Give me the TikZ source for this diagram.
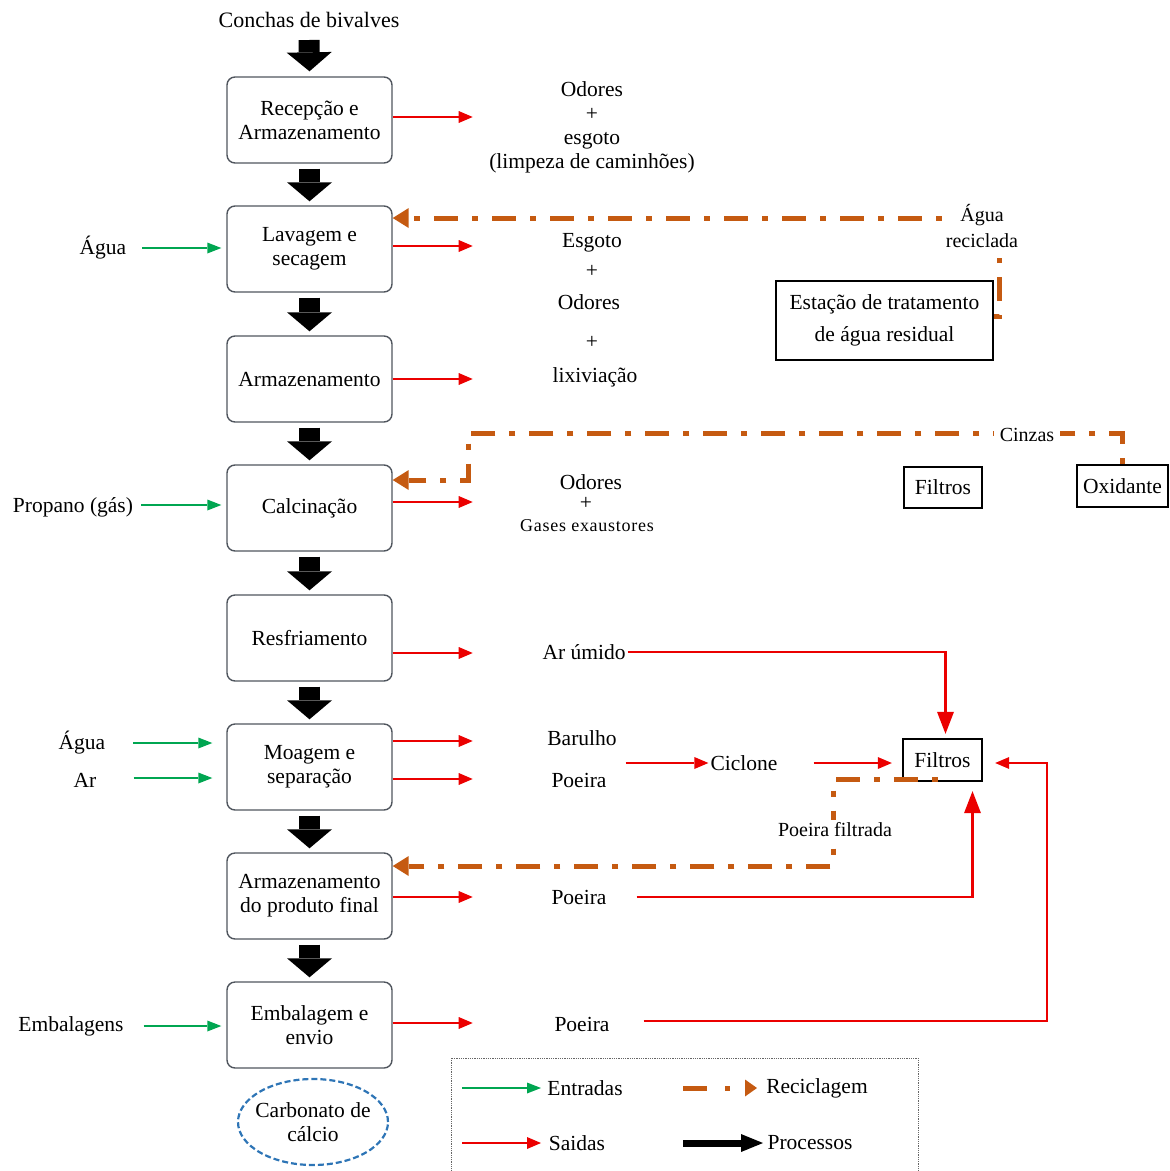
\documentclass[tikz,border=0pt]{standalone}
\usepackage{fontspec}
\setmainfont{Liberation Serif}
\usetikzlibrary{arrows.meta,shapes.geometric}
\definecolor{recol}{RGB}{197,90,17}
\definecolor{grn}{RGB}{0,166,81}
\definecolor{rd}{RGB}{235,0,0}
\definecolor{elb}{RGB}{46,117,182}
\definecolor{boxgray}{RGB}{80,86,94}
\begin{document}
\begin{tikzpicture}[x=1pt,y=-1pt,
  every node/.style={font=\fontsize{21.5}{24}\selectfont, inner sep=2pt},
  proc/.style={draw=boxgray, line width=1.4pt, rounded corners=8pt, minimum width=165pt, minimum height=86pt, align=center, inner sep=0pt},
  sqbox/.style={draw=black, line width=2.4pt, inner sep=0pt, align=center},
  procarrow/.style={line width=21pt, -{Triangle[length=19pt,width=45pt,line width=0pt]}},
  inarrow/.style={draw=grn, line width=1.2pt, -{Triangle[length=14pt,width=11pt,line width=0pt]}},
  outarrow/.style={draw=rd, line width=1.2pt, -{Triangle[length=14pt,width=12pt,line width=0pt]}},
  bigout/.style={draw=rd, line width=2.6pt, -{Triangle[length=22pt,width=17pt,line width=0pt]}},
  recyc/.style={draw=recol, line width=5pt, dash pattern=on 6pt off 14pt on 24pt off 14pt},
  recycarrow/.style={recyc, -{Triangle[length=16pt,width=20pt,line width=0pt]}},
  lbl/.style={fill=white, inner sep=6pt},
]
\useasboundingbox (0,0) rectangle (1170,1171);

% main process boxes
\node[font=\fontsize{22}{24}\selectfont] (src) at (309,20) {Conchas de bivalves};
\node[proc] (b1) at (309.5,120) {Recepção e\\Armazenamento};
\node[proc] (b2) at (309.5,249) {Lavagem e\\secagem};
\node[proc] (b3) at (309.5,379) {Armazenamento};
\node[proc] (b4) at (309.5,508) {Calcinação};
\node[proc] (b5) at (309.5,638) {Resfriamento};
\node[proc] (b6) at (309.5,767) {Moagem e\\separação};
\node[proc] (b7) at (309.5,896) {Armazenamento\\do produto final};
\node[proc] (b8) at (309.5,1025) {Embalagem e\\envio};
\node[align=center, inner sep=0pt] (cc) at (313,1122) {Carbonato de\\cálcio};
\draw[elb, line width=2.2pt, dash pattern=on 6pt off 3pt] (cc.center) ellipse [x radius=75pt, y radius=43pt];

% process arrows
\draw[procarrow] ([yshift=-20pt]src.center) -- ([yshift=5pt]b1.north);
\draw[procarrow] ([yshift=-5pt]b1.south) -- ([yshift=4pt]b2.north);
\draw[procarrow] ([yshift=-5pt]b2.south) -- ([yshift=4pt]b3.north);
\draw[procarrow] ([yshift=-5pt]b3.south) -- ([yshift=4pt]b4.north);
\draw[procarrow] ([yshift=-5pt]b4.south) -- ([yshift=4pt]b5.north);
\draw[procarrow] ([yshift=-5pt]b5.south) -- ([yshift=4pt]b6.north);
\draw[procarrow] ([yshift=-5pt]b6.south) -- ([yshift=4pt]b7.north);
\draw[procarrow] ([yshift=-5pt]b7.south) -- ([yshift=4pt]b8.north);

% inputs
\node (ag1) at (103,248) {Água};
\node (prop) at (73,507) {Propano (gás)};
\node (ag2) at (82,743) {Água};
\node (ar) at (85,780) {Ar};
\node (emb) at (71,1026) {Embalagens};
\draw[inarrow] ([xshift=14pt]ag1.east) -- ([xshift=-5pt]ag1.east -| b2.west);
\draw[inarrow] ([xshift=6pt,yshift=2pt]prop.east) -- ([xshift=-5pt,yshift=2pt]prop.east -| b4.west);
\draw[inarrow] ([xshift=26pt]ag2.east) -- ([xshift=-14pt]ag2.east -| b6.west);
\draw[inarrow] ([xshift=35pt,yshift=2pt]ar.east) -- ([xshift=-14pt,yshift=2pt]ar.east -| b6.west);
\draw[inarrow] ([xshift=18pt]emb.east) -- ([xshift=-5pt]emb.east -| b8.west);

% outputs
\draw[outarrow] ([yshift=3pt]b1.east) -- ++(80,0);
\draw[outarrow] ([yshift=3pt]b2.east) -- ++(80,0);
\draw[outarrow] (b3.east) -- ++(80,0);
\draw[outarrow] ([yshift=6pt]b4.east) -- ++(80,0);
\draw[outarrow] ([yshift=-15pt]b5.east) -- ++(80,0);
\draw[outarrow] ([yshift=26pt]b6.east) -- ++(80,0);
\draw[outarrow] ([yshift=-12pt]b6.east) -- ++(80,0);
\draw[outarrow] ([yshift=-1pt]b7.east) -- ++(80,0);
\draw[outarrow] ([yshift=2pt]b8.east) -- ++(80,0);

\node[align=center] (o1) at (592,127) {Odores\\+\\esgoto\\(limpeza de caminhões)};
\node (o2a) at (592,243) {Esgoto};
\node (o2b) at (592,271) {+};
\node (o2c) at (589,302) {Odores};
\node (o2d) at (592,342) {+};
\node (o2e) at (595,377) {lixiviação};
\node (o4a) at (591,482) {Odores};
\node (o4b) at (586,503) {+};
\node[font=\fontsize{18}{20}\selectfont\addfontfeatures{LetterSpace=4}] (o4c) at (587,526) {Gases exaustores};
\node (arum) at (584,652) {Ar úmido};
\node (bar) at (582,738) {Barulho};
\node (p6) at (579,780) {Poeira};
\node (cic) at (744,763) {Ciclone};
\node (p7) at (579,897) {Poeira};
\node (p8) at (582,1024) {Poeira};

% side boxes
\node[sqbox, minimum width=217pt, minimum height=79pt] (est) at (884.5,320.5) {Estação de tratamento\\[8pt]de água residual};
\node[sqbox, minimum width=78pt, minimum height=41pt] (filt1) at (943,487.5) {Filtros};
\node[sqbox, minimum width=91pt, minimum height=42pt] (oxi) at (1122.5,486) {Oxidante};
\node[sqbox, minimum width=79pt, minimum height=42pt] (filt2) at (942.5,760) {Filtros};
\node[align=center, font=\fontsize{20}{26}\selectfont] (agrec) at (982,226) {Água\\reciclada};

% red flows to filters
\draw[bigout] (arum.east) -| ([shift={(3pt,4pt)}]filt2.north);
\draw[bigout] ([xshift=28pt]p7.east) -| ([shift={(30pt,-9pt)}]filt2.south);
\coordinate (c3) at (1047,1021);
\draw[outarrow] ([shift={(32pt,3pt)}]p8.east) -- (c3) |- ([xshift=12pt,yshift=-3pt]filt2.east);
\draw[outarrow] ([shift={(17pt,17pt)}]p6.east) -- (cic.west);
\draw[outarrow] ([xshift=34pt]cic.east) -- ([xshift=-10pt]cic.east -| filt2.west);

% recycling flows
\draw[recyc] ([yshift=4.5pt]est.east) -- ++(5,0) -- ++(0,-58);
\draw[recycarrow] ([shift={(-2pt,8pt)}]agrec.west) -- ([yshift=31pt]b2.east);
\coordinate (c1) at (468,433);
\draw[recycarrow] (oxi.north) |- (c1) |- ([yshift=28pt]b4.east);
\node[lbl, font=\fontsize{20}{24}\selectfont] (cinz) at (1027,435) {Cinzas};
\coordinate (c2) at (833,866);
\draw[recycarrow] ([shift={(-5pt,3pt)}]filt2.south) -| (c2) -- ([yshift=30pt]b7.east);
\node[lbl, inner sep=3pt, font=\fontsize{20}{24}\selectfont] (pf) at (835,830) {Poeira filtrada};

% legend
\draw[black!60, densely dotted, line width=0.8pt] (451,1058) rectangle (918,1185);
\coordinate (l1a) at (462,1088); \coordinate (l1b) at (541,1088);
\coordinate (l2a) at (462,1143); \coordinate (l2b) at (541,1143);
\coordinate (l3a) at (683,1088); \coordinate (l3b) at (757,1088);
\coordinate (l4a) at (683,1143); \coordinate (l4b) at (763,1143);
\draw[inarrow] (l1a) -- (l1b);
\draw[outarrow] (l2a) -- (l2b);
\draw[draw=recol, line width=5pt, dash pattern=on 24pt off 18pt on 5pt off 40pt, -{Triangle[length=12pt,width=17pt,line width=0pt]}] (l3a) -- (l3b);
\draw[line width=7pt, -{Triangle[length=22pt,width=18pt,line width=0pt]}] (l4a) -- (l4b);
\node (len) at (585,1088) {Entradas};
\node (lsa) at (577,1143) {Saidas};
\node (lre) at (817,1088) {Reciclagem};
\node (lpr) at (810,1143) {Processos};
\end{tikzpicture}
\end{document}
